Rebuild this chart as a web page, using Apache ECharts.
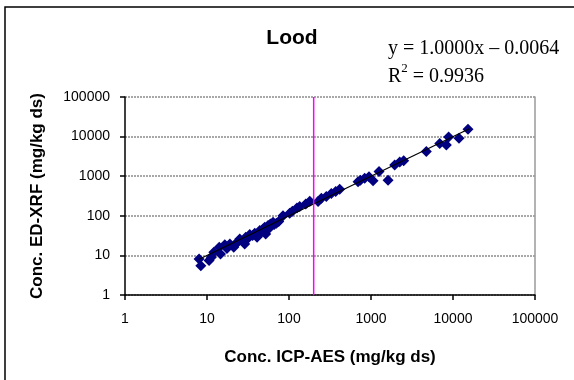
<!DOCTYPE html>
<html>
<head>
<meta charset="utf-8">
<script src="https://cdn.jsdelivr.net/npm/echarts@6/dist/echarts.min.js"></script>
<style>
  html, body { margin: 0; padding: 0; background: #fff; }
  #chart { width: 574px; height: 380px; }
</style>
</head>
<body>
<div id="chart"></div>
<script>
// Lead (Lood): ED-XRF vs ICP-AES concentrations, mg/kg dry solids
const icpAes = [8.0, 8.4, 10.6, 11.3, 12.1, 14.1, 14.6, 16.5, 17.5, 19.0, 21.2, 22.2, 24, 25.1, 28.8, 29.7,
  31, 33.2, 36, 38.2, 40.8, 44, 46, 48.3, 50.6, 52, 55.5, 57, 59.3, 63.9, 66, 70.1, 75, 84.5, 102, 110, 125, 135, 160, 179,
  226, 248, 285, 328, 371, 415, 695, 742, 837, 946, 1059, 1253, 1614, 1945, 2240, 2505,
  4730, 6890, 8300, 8850, 11830, 15240];
const edXrf = [8.1, 5.5, 7.4, 9.0, 12.0, 16.0, 10.9, 18.7, 15, 19.5, 16.0, 19.5, 22, 26.0, 19.5, 28.7,
  26, 33.5, 32, 36.2, 28.7, 42.3, 38, 46.6, 51.3, 34.8, 56.5, 48, 62.3, 68.7, 60, 64.7, 72, 101, 116, 130, 158, 171, 200, 233,
  230, 279, 307, 366, 411, 470, 720, 792, 891, 962, 762, 1312, 792, 1930, 2300, 2440,
  4190, 6670, 6170, 9800, 9080, 15300];

// Linear trendline as stated in the label, drawn over the data range
const trendSlope = 1.0000;
const trendIntercept = -0.0064;
const trendX = [7.9, 15800];
const r2 = '0.9936';

// Reference concentration marked by the vertical line
const refX = 200;

const axisTicks = [1, 10, 100, 1000, 10000, 100000];

const points = icpAes.map((x, i) => [x, edXrf[i]]);
const trend = trendX.map(x => [x, trendSlope * x + trendIntercept]);

const chart = echarts.init(document.getElementById('chart'));
const sans = 'Liberation Sans, Arial, sans-serif';
const serif = '"Liberation Serif", "Times New Roman", serif';
const fontTick = { fontFamily: sans, fontSize: 14, color: '#000' };

chart.setOption({
  animation: false,
  backgroundColor: '#fff',
  graphic: [
    {
      type: 'rect', silent: true, z: -1,
      shape: { x: 5, y: 7, width: 640, height: 420 },
      style: { fill: 'none', stroke: '#000', lineWidth: 1.5 }
    },
    {
      type: 'text', x: 292, y: 38,
      style: {
        text: 'Lood', font: 'bold 21px ' + sans, fill: '#000',
        textAlign: 'center', textVerticalAlign: 'middle'
      }
    },
    {
      type: 'text', left: 388, top: 39,
      style: {
        text: 'y = ' + trendSlope.toFixed(4) + 'x – ' + Math.abs(trendIntercept).toFixed(4),
        font: '20px ' + serif, fill: '#000'
      }
    },
    {
      type: 'text', left: 388, top: 62,
      style: {
        text: '{r|R}{sup|2}{r| = ' + r2 + '}',
        rich: {
          r: { font: '20px ' + serif, fill: '#000', verticalAlign: 'bottom' },
          sup: { font: '13px ' + serif, fill: '#000', verticalAlign: 'top', padding: [0, 0, 12, 0] }
        }
      }
    }
  ],
  grid: { left: 125, top: 97, width: 410, height: 198, containLabel: false },
  xAxis: {
    type: 'log', logBase: 10, min: 1, max: 100000,
    name: 'Conc. ICP-AES (mg/kg ds)',
    nameLocation: 'middle', nameGap: 54,
    nameTextStyle: { fontFamily: sans, fontSize: 17, fontWeight: 'bold', color: '#000' },
    axisLine: { onZero: false, lineStyle: { color: '#000', width: 1.5 } },
    axisTick: { show: true, inside: false, length: 5, lineStyle: { color: '#000', width: 1.5 } },
    minorTick: { show: false },
    axisLabel: { ...fontTick, margin: 17, formatter: v => String(Math.round(v)) },
    splitLine: { show: false }
  },
  yAxis: [
    {
      type: 'log', logBase: 10, min: 1, max: 100000,
      name: 'Conc. ED-XRF (mg/kg ds)',
      nameLocation: 'middle', nameGap: 79, nameRotate: 90,
      nameTextStyle: { fontFamily: sans, fontSize: 17, fontWeight: 'bold', color: '#000' },
      axisLine: { onZero: false, lineStyle: { color: '#000', width: 1.5 } },
      axisTick: { show: true, inside: false, length: 5, lineStyle: { color: '#000', width: 1.5 } },
      axisLabel: { ...fontTick, margin: 15, formatter: v => String(Math.round(v)) },
      splitLine: { show: true, lineStyle: { color: '#8c8c8c', width: 1.5, type: [2, 1] } }
    },
    {
      type: 'log', logBase: 10, min: 1, max: 100000, position: 'right',
      axisLine: { show: true, lineStyle: { color: '#9a9a9a', width: 1.5 } },
      axisTick: { show: false }, axisLabel: { show: false }, splitLine: { show: false }
    }
  ],
  series: [
    {
      type: 'scatter', data: points,
      symbol: 'diamond', symbolSize: 11,
      itemStyle: { color: '#000080', opacity: 1 }, z: 3
    },
    {
      type: 'line', data: trend, symbol: 'none',
      lineStyle: { color: '#000', width: 1.2 }, z: 4
    },
    {
      type: 'line', data: [[refX, axisTicks[0]], [refX, axisTicks[axisTicks.length - 1]]],
      symbol: 'none',
      lineStyle: { color: '#ff00ff', width: 1.5 }, z: 5
    }
  ]
});
</script>
</body>
</html>
